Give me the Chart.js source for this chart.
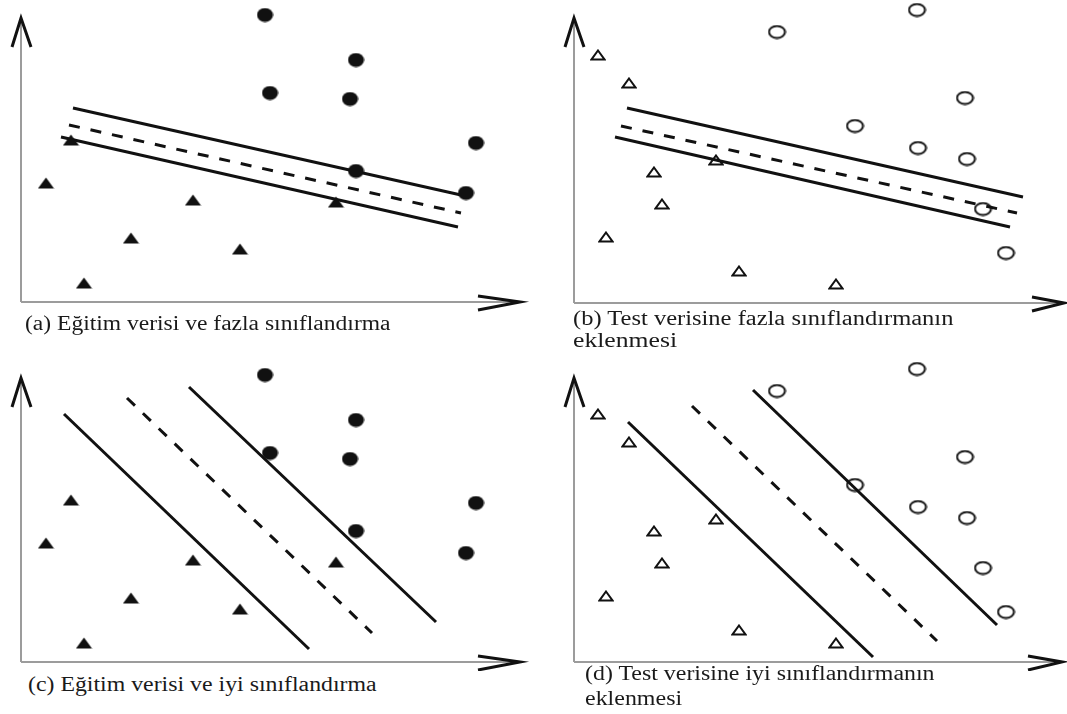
<!DOCTYPE html>
<html>
<head>
<meta charset="utf-8">
<script src="https://cdn.jsdelivr.net/npm/chart.js@4.4.1/dist/chart.umd.min.js"></script>
<style>
body { margin: 0; background: #fff; width: 1067px; height: 714px; position: relative; overflow: hidden; }
canvas { position: absolute; }
.cap { position: absolute; font-family: "Liberation Serif", "Times New Roman", serif; font-size: 20px; line-height: 20px;
       color: #1a1a1a; white-space: nowrap; transform-origin: 0 50%; }
</style>
</head>
<body>
<canvas id="chartA"></canvas>
<canvas id="chartB"></canvas>
<canvas id="chartC"></canvas>
<canvas id="chartD"></canvas>

<script>
// egitim verisi (a ve c icin ayni), birim: eksen kosesinden uzaklik
var trainCircles   = [[24.4,28.7],[33.5,24.2],[24.9,20.9],[32.9,20.3],[45.5,15.9],[33.5,13.1],[44.5,10.9]];
var trainTriangles = [[5.0,16.2],[2.5,11.9],[17.2,10.2],[31.5,10.0],[11.0,6.4],[21.9,5.3],[6.3,1.9]];

// test verisi (b ve d icin ayni)
var testCircles   = [[34.3,29.3],[20.3,27.1],[39.1,20.5],[28.1,17.7],[34.4,15.5],[39.3,14.4],[40.9,9.4],[43.2,5.0]];
var testTriangles = [[2.4,24.8],[5.5,22.0],[8.0,13.1],[8.8,9.9],[3.2,6.6],[16.5,3.2],[26.2,1.9],[14.2,14.3]];

// siniflandirma cizgileri: [ust/sol duz, kesikli, alt/sag duz]
var linesA = [[[5.2,19.4],[44.0,10.7]], [[4.8,17.7],[44.0,8.9]], [[4.0,16.5],[43.7,7.5]]];
var linesB = [[[5.3,19.5],[44.9,10.6]], [[4.7,17.7],[44.3,9.0]], [[4.1,16.6],[43.6,7.6]]];
var linesC = [[[4.3,24.8],[28.8,1.3]], [[10.6,26.4],[35.1,2.9]], [[16.8,27.5],[41.5,4.0]]];
var linesD = [[[5.4,24.0],[29.9,0.5]], [[11.8,25.6],[36.3,2.1]], [[17.9,27.2],[42.3,3.7]]];

var captionA = ['(a) Eğitim verisi ve fazla sınıflandırma'];
var captionB = ['(b) Test verisine fazla sınıflandırmanın', 'eklenmesi'];
var captionC = ['(c) Eğitim verisi ve iyi sınıflandırma'];
var captionD = ['(d) Test verisine iyi sınıflandırmanın', 'eklenmesi'];

var UNIT = 10; // piksel / birim

// isaretciler
function sprite(kind, filled, w, h) {
    var c = document.createElement('canvas');
    c.width = w; c.height = h;
    var g = c.getContext('2d');
    g.fillStyle = '#111';
    g.strokeStyle = '#111';
    g.lineWidth = 2;
    g.beginPath();
    if (kind == 'circle') {
        var p = filled ? 0.5 : 1.5;
        g.ellipse(w / 2, h / 2, w / 2 - p, h / 2 - p, 0, 0, Math.PI * 2);
    } else {
        var q = filled ? 0.5 : 1.5;
        g.moveTo(w / 2, q);
        g.lineTo(w - q, h - q);
        g.lineTo(q, h - q);
        g.closePath();
    }
    if (filled) g.fill(); else g.stroke();
    return c;
}
var dotFilled = sprite('circle', true, 17, 15);
var dotOpen   = sprite('circle', false, 19, 15);
var triFilled = sprite('tri', true, 17, 12);
var triOpen   = sprite('tri', false, 16, 12);

// eksenler ve oklar
var axisArrows = {
    id: 'axisArrows',
    beforeDatasetsDraw: function(chart, args, opts) {
        var sx = chart.scales.x, sy = chart.scales.y, g = chart.ctx;
        var x0 = sx.getPixelForValue(0), y0 = sy.getPixelForValue(0);
        var yt = sy.getPixelForValue(opts.yTop), xe = sx.getPixelForValue(opts.xEnd);
        g.save();
        g.strokeStyle = '#9c9c9c';
        g.lineWidth = 2;
        g.beginPath();
        g.moveTo(x0, y0); g.lineTo(x0, yt + 3);
        g.moveTo(x0, y0); g.lineTo(xe - 6, y0);
        g.stroke();
        g.strokeStyle = '#111';
        g.lineWidth = 3;
        g.beginPath();
        g.moveTo(x0 - 9, yt + 29); g.lineTo(x0, yt); g.lineTo(x0 + 10, yt + 29);
        g.stroke();
        g.beginPath();
        g.moveTo(xe - opts.xHead, y0 - 6); g.lineTo(xe, y0); g.lineTo(xe - opts.xHead, y0 + 8);
        g.stroke();
        g.restore();
    }
};

function pts(arr) {
    return arr.map(function(p) { return { x: p[0], y: p[1] }; });
}

var panels = [
    { id: 'chartA', box: [0, 0, 535, 314],   origin: [21, 302],  circles: trainCircles, tris: trainTriangles, dot: dotFilled, tri: triFilled, lines: linesA, yTop: 28.4, xEnd: 49.9, xHead: 42 },
    { id: 'chartB', box: [537, 0, 530, 314], origin: [574, 303], circles: testCircles,  tris: testTriangles,  dot: dotOpen,   tri: triOpen,   lines: linesB, yTop: 28.5, xEnd: 49.0, xHead: 32 },
    { id: 'chartC', box: [0, 357, 535, 314], origin: [21, 662],  circles: trainCircles, tris: trainTriangles, dot: dotFilled, tri: triFilled, lines: linesC, yTop: 28.4, xEnd: 49.9, xHead: 42 },
    { id: 'chartD', box: [537, 357, 530, 314], origin: [574, 662], circles: testCircles, tris: testTriangles, dot: dotOpen,   tri: triOpen,   lines: linesD, yTop: 28.4, xEnd: 48.8, xHead: 34 }
];

panels.forEach(function(p) {
    var cv = document.getElementById(p.id);
    var L = p.box[0], T = p.box[1], W = p.box[2], H = p.box[3];
    cv.width = W; cv.height = H;
    cv.style.left = L + 'px'; cv.style.top = T + 'px';
    cv.style.width = W + 'px'; cv.style.height = H + 'px';

    var datasets = [
        { data: pts(p.circles), pointStyle: p.dot, pointRadius: 8, clip: false },
        { data: pts(p.tris), pointStyle: p.tri, pointRadius: 8, clip: false }
    ];
    p.lines.forEach(function(seg, i) {
        datasets.push({
            data: pts(seg), showLine: true, pointRadius: 0,
            borderColor: '#111', borderWidth: 3,
            borderDash: i == 1 ? [11, 11] : [], clip: false
        });
    });

    new Chart(cv, {
        type: 'scatter',
        data: { datasets: datasets },
        options: {
            responsive: false,
            animation: false,
            events: [],
            layout: { padding: 0, autoPadding: false },
            plugins: {
                legend: { display: false },
                tooltip: { enabled: false },
                axisArrows: { yTop: p.yTop, xEnd: p.xEnd, xHead: p.xHead }
            },
            scales: {
                x: { type: 'linear', display: false,
                     min: (L - p.origin[0]) / UNIT, max: (L + W - p.origin[0]) / UNIT },
                y: { type: 'linear', display: false,
                     min: (p.origin[1] - (T + H)) / UNIT, max: (p.origin[1] - T) / UNIT }
            }
        },
        plugins: [axisArrows]
    });
});

// alt yazilar: [metin, sol, orta y, genislik]
var capLines = [
    [captionA[0], 25, 325, 365],
    [captionB[0], 573, 320, 380],
    [captionB[1], 573, 342, 104],
    [captionC[0], 28, 686, 349],
    [captionD[0], 585, 675, 350],
    [captionD[1], 585, 700, 97]
];
capLines.forEach(function(c) {
    var el = document.createElement('div');
    el.className = 'cap';
    el.textContent = c[0];
    el.style.left = c[1] + 'px';
    el.style.top = (c[2] - 12) + 'px';
    document.body.appendChild(el);
    var w = el.offsetWidth;
    el.style.transform = 'scaleX(' + (c[3] / w) + ')';
});
</script>
</body>
</html>
